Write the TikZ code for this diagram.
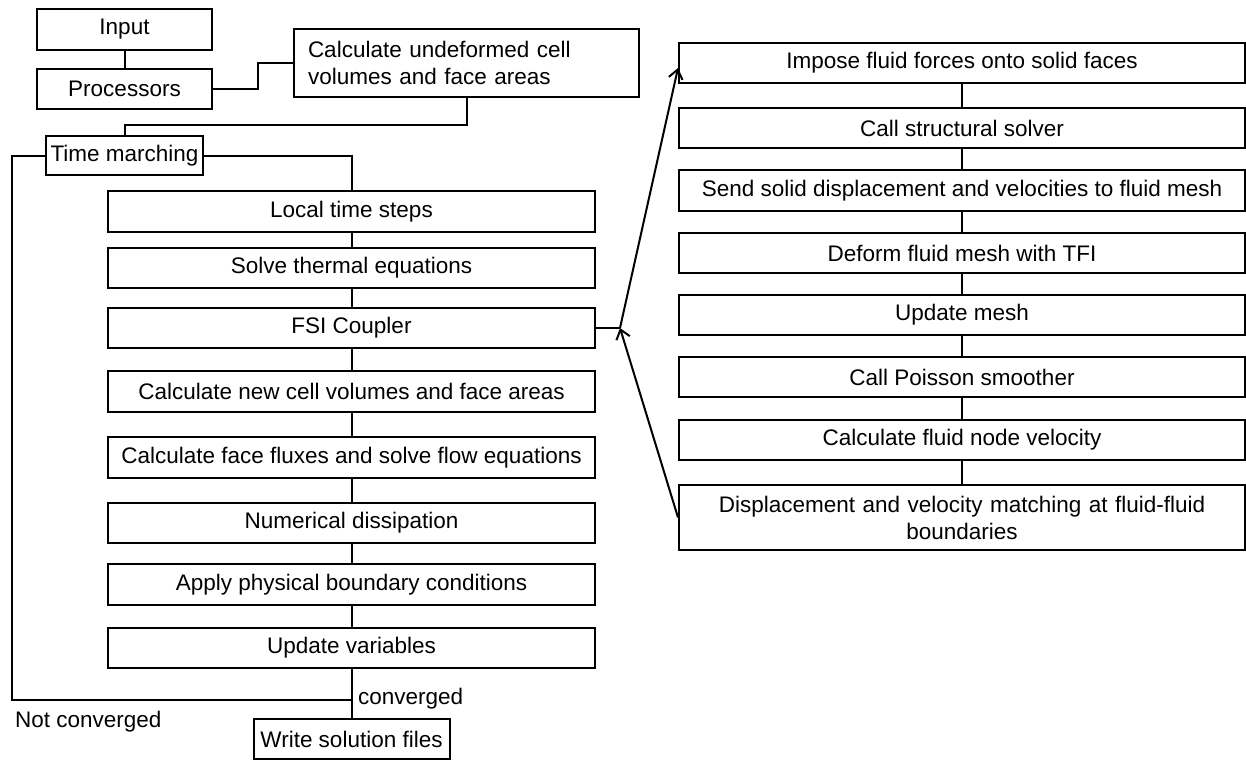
\documentclass[tikz,border=0pt]{standalone}
\usepackage{fontspec}
\setmainfont{Liberation Sans}
\usetikzlibrary{arrows.meta}
\begin{document}
\begin{tikzpicture}[x=1pt,y=-1pt,
  every node/.style={font=\fontsize{22.5}{27}\selectfont},
  box/.style={draw, line width=2pt, inner sep=0pt, align=center},
  leftcol/.style={box, minimum width=487pt, minimum height=40.5pt},
  rightcol/.style={box, minimum width=566pt, minimum height=40.5pt},
  link/.style={line width=2pt},
  flow/.style={line width=2pt, -{Straight Barb[length=9pt,width=14pt]}},
  lbl/.style={inner sep=0pt, anchor=west}]
\useasboundingbox (0,0) rectangle (1246,761);

% start-up boxes
\node[box, minimum width=175pt, minimum height=41pt] (input) at (124.5,29.5) {Input};
\node[box, minimum width=175pt, minimum height=40pt] (proc) at (124.5,89) {Processors};
\node[box, text width=317pt, inner xsep=14pt, minimum height=68pt, align=left]
  (undef) at (466.5,63) {Calculate undeformed cell\\volumes and face areas};
\node[box, minimum width=157pt, minimum height=39pt] (tmarch) at (124.5,155.5) {Time marching};

% main time-marching loop
\node[leftcol] (local)   at (351.5,211.5) {Local time steps};
\node[leftcol] (thermal) at (351.5,268)   {Solve thermal equations};
\node[leftcol] (fsi)     at (351.5,328)   {FSI Coupler};
\node[leftcol] (newvol)  at (351.5,391.5) {Calculate new cell volumes and face areas};
\node[leftcol] (fluxes)  at (351.5,457.5) {Calculate face fluxes and solve flow equations};
\node[leftcol] (dissip)  at (351.5,523)   {Numerical dissipation};
\node[leftcol] (bcs)     at (351.5,584.5) {Apply physical boundary conditions};
\node[leftcol] (update)  at (351.5,648)   {Update variables};
\node[box, minimum width=196pt, minimum height=40pt] (write) at (351.5,739) {Write solution files};

% FSI coupler steps
\node[rightcol] (impose)   at (962,63)    {Impose fluid forces onto solid faces};
\node[rightcol] (struct)   at (962,128)   {Call structural solver};
\node[rightcol] (send)     at (962,190.5) {Send solid displacement and velocities to fluid mesh};
\node[rightcol] (tfi)      at (962,253)   {Deform fluid mesh with TFI};
\node[rightcol] (umesh)    at (962,315)   {Update mesh};
\node[rightcol] (poisson)  at (962,377)   {Call Poisson smoother};
\node[rightcol] (nodevel)  at (962,440)   {Calculate fluid node velocity};
\node[box, text width=540pt, inner xsep=13pt, minimum height=65pt] (match) at (962,517.5)
  {Displacement and velocity matching at fluid-fluid\\boundaries};

% start-up connectors
\draw[link] (input) -- (proc);
\draw[link] (proc.east) -- ++(45,0) |- (undef.west);
\draw[link] (undef.south) -- ++(0,27) -| (tmarch.north);
\draw[link] (tmarch.east) -| (local.north);

% loop connectors
\draw[link] (local) -- (thermal);
\draw[link] (thermal) -- (fsi);
\draw[link] (fsi) -- (newvol);
\draw[link] (newvol) -- (fluxes);
\draw[link] (fluxes) -- (dissip);
\draw[link] (dissip) -- (bcs);
\draw[link] (bcs) -- (update);
\draw[link] (update) -- (write);

\coordinate (conv) at (351.5,700);
\coordinate (loopx) at (12,155.5);
\draw[link] (tmarch.west) -- (loopx) |- (conv);
\node[lbl] (convlbl) at (358,699) {converged};
\node[lbl] (notconv) at (15,722) {Not converged};

% coupler connectors
\draw[link] (impose) -- (struct);
\draw[link] (struct) -- (send);
\draw[link] (send) -- (tfi);
\draw[link] (tfi) -- (umesh);
\draw[link] (umesh) -- (poisson);
\draw[link] (poisson) -- (nodevel);
\draw[link] (nodevel) -- (match);

\coordinate (fsij) at (620,328);
\draw[link] (fsi.east) -- (fsij);
\draw[flow] (fsij) -- ([yshift=-5pt]impose.west);
\draw[flow] (match.west) -- (fsij);
\end{tikzpicture}
\end{document}
